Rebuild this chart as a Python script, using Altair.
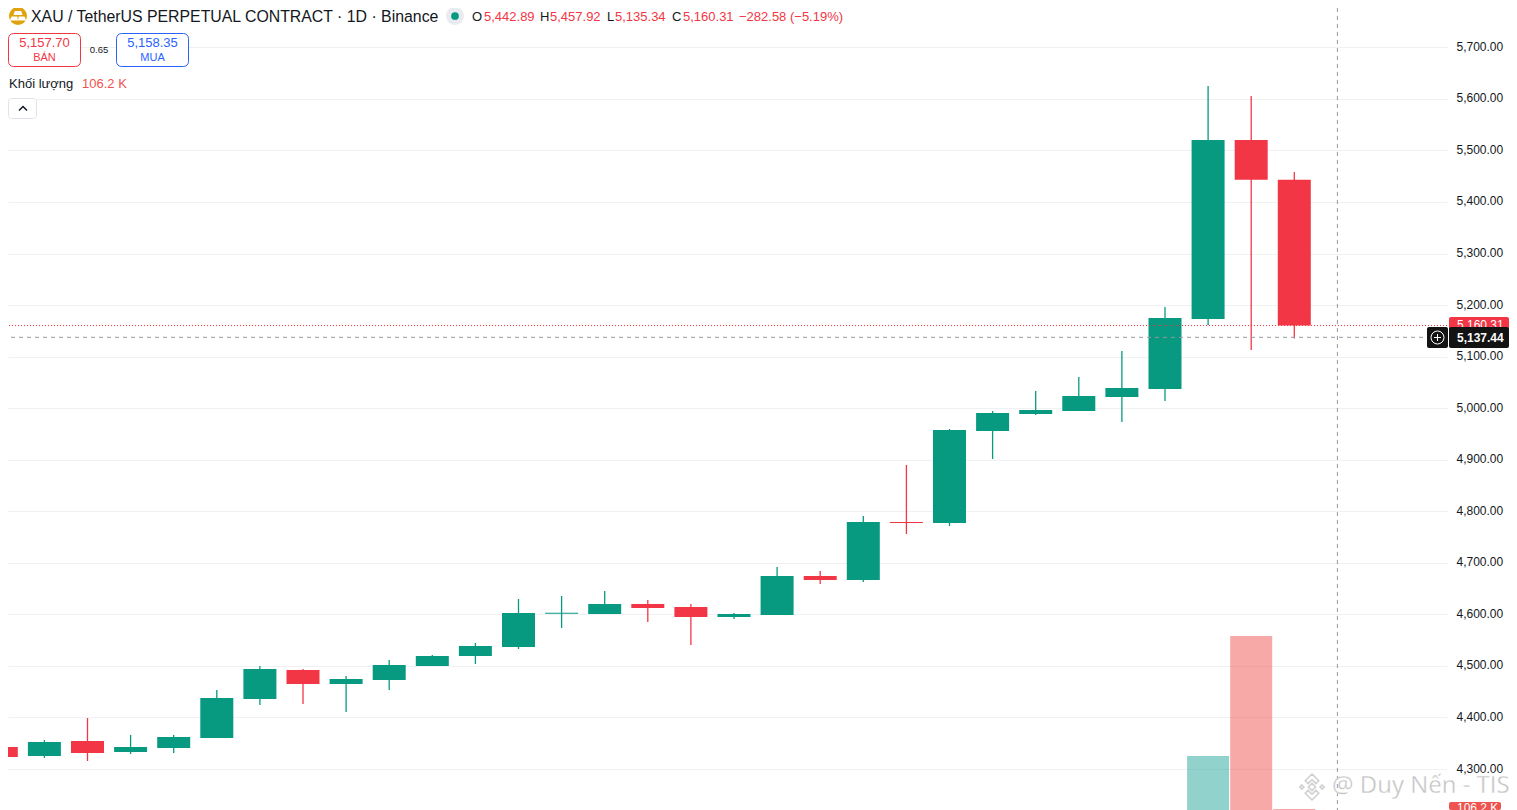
import altair as alt
import pandas as pd

FONT = "Liberation Sans"
UP = "#089981"
DOWN = "#F23645"
INK = "#131722"

# ---------- chart values ----------
index = list(range(31))
open_ = [4342.7, 4325.2, 4354.3, 4333.0, 4340.7, 4360.1, 4435.8, 4492.1, 4464.9, 4472.7, 4499.8,
         4519.2, 4536.7, 4601.3, 4600.7, 4620.1, 4614.3, 4594.9, 4598.8, 4674.4, 4666.7,
         4779.2, 4777.2, 4955.7, 4988.7, 4994.5, 5021.7, 5037.2, 5173.0, 5520.3, 5442.89]
high = [4373.7, 4356.3, 4398.9, 4366.0, 4366.0, 4453.3, 4499.8, 4494.0, 4480.4, 4511.5, 4521.2,
        4544.4, 4629.8, 4635.6, 4645.3, 4627.9, 4620.1, 4602.6, 4691.9, 4684.1, 4790.8,
        4889.8, 4959.6, 4994.5, 5033.3, 5060.5, 5110.9, 5196.3, 5625.0, 5605.6, 5457.92]
low = [4282.5, 4321.3, 4315.5, 4329.1, 4331.0, 4360.1, 4424.2, 4426.1, 4410.6, 4453.3, 4499.8,
       4503.7, 4532.8, 4573.5, 4600.7, 4585.2, 4540.6, 4591.0, 4598.8, 4658.9, 4662.8,
       4755.9, 4771.4, 4901.4, 4986.8, 4994.5, 4973.2, 5013.9, 5161.4, 5112.9, 5135.34]
close = [4323.3, 4352.4, 4331.0, 4342.7, 4362.1, 4437.7, 4494.0, 4464.9, 4474.6, 4501.8, 4519.2,
         4538.6, 4602.6, 4603.2, 4620.1, 4612.3, 4594.9, 4600.7, 4674.4, 4666.7, 4779.2,
         4777.2, 4957.7, 4990.6, 4996.5, 5023.6, 5039.1, 5174.9, 5520.3, 5442.89, 5160.31]
volume_index = [28, 29, 30]
volume_k = [5730, 18480, 106.2]
volume_dir = ["up", "down", "down"]
price_ticks = [4300, 4400, 4500, 4600, 4700, 4800, 4900, 5000, 5100, 5200, 5300, 5400, 5500, 5600, 5700]
time_grid = [1, 3, 5, 7, 9, 11, 13, 15, 17, 19, 21, 23, 25, 27, 29, 32]
last_price = 5160.31
cross_price = 5137.44
cross_index = 31.0

df = pd.DataFrame({"i": index, "o": open_, "h": high, "l": low, "c": close})
df["dir"] = ["up" if c >= o else "down" for o, c in zip(open_, close)]
vol = pd.DataFrame({"i": volume_index, "v": volume_k, "dir": volume_dir})

# ---------- scales ----------
xs = alt.Scale(domain=[0.1555, 33.543], zero=False, nice=False, padding=0)
ys = alt.Scale(domain=[4220.5, 5776.3], zero=False, nice=False, padding=0)
vs = alt.Scale(domain=[0, 85172], zero=False, nice=False, padding=0)
col = alt.Color("dir:N", scale=alt.Scale(domain=["up", "down"], range=[UP, DOWN]), legend=None)
vcol = alt.Color("dir:N", scale=alt.Scale(domain=["up", "down"], range=["#26a69a", "#ef5350"]), legend=None)
X = alt.X("i:Q", scale=xs, axis=None)


def X0(x):
    return alt.value(x - 8)


def Y0(y):
    return alt.value(y - 8)


def text(s, x, y, color=INK, size=13, align="left", font=FONT, **kw):
    return alt.Chart(pd.DataFrame({"t": [s]})).mark_text(
        align=align, baseline="middle", color=color, fontSize=size, font=font, **kw
    ).encode(x=X0(x), y=Y0(y), text="t:N")


def box(x1, x2, y1, y2, fill="#ffffff", stroke=None, radius=0, **kw):
    args = dict(fill=fill, cornerRadius=radius)
    if stroke:
        args.update(stroke=stroke, strokeWidth=1)
    args.update(kw)
    return alt.Chart(pd.DataFrame({"a": [0]})).mark_rect(**args).encode(
        x=X0(x1), x2=X0(x2), y=Y0(y1), y2=Y0(y2))


def sym(x, y, shape, size, **kw):
    return alt.Chart(pd.DataFrame({"a": [0]})).mark_point(shape=shape, size=size, opacity=1, **kw).encode(
        x=X0(x), y=Y0(y))


# ---------- data layers ----------
volume = alt.Chart(vol).mark_bar(size=42, clip=True, opacity=0.5).encode(
    x=X, y=alt.Y("v:Q", scale=vs, axis=None), color=vcol)

wicks = alt.Chart(df).mark_rule(strokeWidth=1.3, clip=True).encode(
    x=alt.X("i:Q", scale=xs, axis=alt.Axis(values=time_grid, grid=True, gridColor="#f0f1f4", gridWidth=1,
                                           labels=False, ticks=False, domain=False, title=None)),
    y=alt.Y("l:Q", scale=ys, axis=alt.Axis(values=price_ticks, orient="right", format=",.2f", grid=True,
                                           gridColor="#f0f1f4", gridWidth=1, ticks=False, domain=False,
                                           title=None, labelFont=FONT, labelFontSize=12, labelColor=INK,
                                           labelPadding=9, labelOffset=-1, labelOverlap=False, labelFlush=False)),
    y2="h:Q", color=col)

bodies = alt.Chart(df).mark_bar(size=33, clip=True).encode(
    x=X, y=alt.Y("o:Q", scale=ys, axis=None), y2="c:Q", color=col)

last_line = alt.Chart(pd.DataFrame({"p": [last_price]})).mark_rule(
    color=DOWN, strokeDash=[1, 2], strokeWidth=1).encode(y=alt.Y("p:Q", scale=ys, axis=None))
cross_h = alt.Chart(pd.DataFrame({"p": [cross_price]})).mark_rule(
    color="#9598a1", strokeDash=[4, 4], strokeWidth=1).encode(y=alt.Y("p:Q", scale=ys, axis=None))
cross_v = alt.Chart(pd.DataFrame({"i": [cross_index]})).mark_rule(
    color="#9598a1", strokeDash=[4, 4], strokeWidth=1).encode(x=X)

# ---------- header / overlays ----------
BARS = "M-0.35,-0.55L0.35,-0.55L0.5,-0.12L-0.5,-0.12ZM-0.72,0.05L-0.08,0.05L0,0.5L-0.9,0.5ZM0.08,0.05L0.72,0.05L0.9,0.5L0,0.5Z"
BINANCE = ("M0,-0.28L0.28,0L0,0.28L-0.28,0ZM-0.78,-0.16L-0.62,0L-0.78,0.16L-0.94,0ZM0.78,-0.16L0.94,0L0.78,0.16L0.62,0Z"
           "M0,-1L0.52,-0.48L0.3,-0.26L0,-0.56L-0.3,-0.26L-0.52,-0.48ZM0,1L0.52,0.48L0.3,0.26L0,0.56L-0.3,0.26L-0.52,0.48Z")

overlays = [
    sym(18, 16, "circle", 324, filled=True, color="#E0A30F", strokeWidth=0),
    sym(18, 16, BARS, 324, filled=True, color="#ffffff", strokeWidth=0),
    text("XAU / TetherUS PERPETUAL CONTRACT · 1D · Binance", 31, 16.5, size=15.85),
    sym(455, 16, "circle", 324, filled=True, color="#e8ebef", strokeWidth=0),
    sym(455, 16, "circle", 60, filled=True, color=UP, strokeWidth=0),
    text("O", 472, 17), text("5,442.89", 484, 17, color=DOWN),
    text("H", 540, 17), text("5,457.92", 550, 17, color=DOWN),
    text("L", 607, 17), text("5,135.34", 615, 17, color=DOWN),
    text("C", 672, 17), text("5,160.31", 683, 17, color=DOWN),
    text("−282.58 (−5.19%)", 739, 17, color=DOWN),
    box(8.5, 80.5, 33.5, 66.5, stroke=DOWN, radius=5),
    text("5,157.70", 44.5, 43, color=DOWN, size=13, align="center"),
    text("BÁN", 44.5, 57.5, color=DOWN, size=11, align="center"),
    text("0.65", 99, 49.5, size=9.5, align="center"),
    box(116.5, 188.5, 33.5, 66.5, stroke="#2962FF", radius=5),
    text("5,158.35", 152.5, 43, color="#2962FF", size=13, align="center"),
    text("MUA", 152.5, 57.5, color="#2962FF", size=11, align="center"),
    text("Khối lượng", 9, 83.5, size=13),
    text("106.2 K", 82, 83.5, color="#ef5350", size=13),
    box(8.5, 36.5, 98.5, 118.5, stroke="#e0e3eb", radius=3),
    sym(23, 108.5, "M-1,0.5L0,-0.5L1,0.5", 64, filled=False, color=INK, strokeWidth=1.5),
    # price scale tags
    box(1449, 1509, 317, 335, fill=DOWN, radius=2),
    text("5,160.31", 1457, 325, color="#ffffff", size=12),
    box(1427, 1448, 327, 348, fill="#131313", radius=2),
    box(1449, 1509, 327, 348, fill="#131313", radius=2),
    sym(1437.5, 337.5, "circle", 169, filled=False, color="#ffffff", strokeWidth=1),
    sym(1437.5, 337.5, "M-1,0L1,0M0,-1L0,1", 49, filled=False, color="#ffffff", strokeWidth=1),
    text("5,137.44", 1457, 337.5, color="#ffffff", size=12, fontWeight="bold"),
    box(1449, 1501, 802, 810, fill="#ef5350", radius=2),
    text("106.2 K", 1457, 808, color="#ffffff", size=12),
    # watermark
    sym(1312, 787, BINANCE, 676, filled=True, color="#ffffff", stroke="#cfcfcf", strokeWidth=1.5),
    text("@ Duy Nến - TIS", 1332, 785.5, color="#c4c4c4", size=24, font="Open Sans", stroke="#ffffff", strokeWidth=0.3),
]

chart = alt.layer(
    volume, wicks, bodies, last_line, cross_h, cross_v, *overlays
).resolve_scale(y="independent", color="independent").properties(
    width=1439,
    height=802,
    padding={"left": 0, "top": 0, "right": 62, "bottom": 0},
    autosize=alt.AutoSizeParams(type="none", contains="content"),
    background="#ffffff",
).configure_view(stroke=None)

chart.save("out.html", embed_options={"renderer": "svg", "actions": False})
